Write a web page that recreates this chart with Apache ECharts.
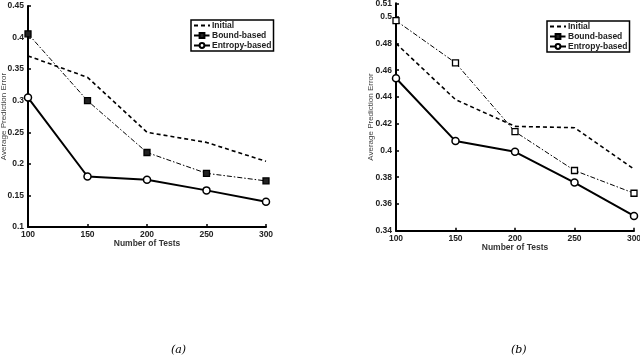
<!DOCTYPE html>
<html><head><meta charset="utf-8">
<script src="https://cdn.jsdelivr.net/npm/echarts@6/dist/echarts.min.js"></script>
<style>html,body{margin:0;padding:0;background:#fff}#c{width:640px;height:356px}</style>
</head><body><div id="c"></div>
<script>
const xTests = [100, 150, 200, 250, 300];
const seriesNames = ['Initial', 'Bound-based', 'Entropy-based'];
// chart (a)
const aInitial = [0.371, 0.337, 0.250, 0.234, 0.204];
const aBound   = [0.406, 0.300, 0.218, 0.185, 0.173];
const aEntropy = [0.305, 0.180, 0.175, 0.158, 0.140];
// chart (b)
const bInitial = [0.480, 0.438, 0.418, 0.417, 0.386];
const bBound   = [0.497, 0.4655, 0.414, 0.385, 0.368];
const bEntropy = [0.454, 0.407, 0.399, 0.376, 0.351];
const captions = ['(a)', '(b)'];
const yTitle = 'Average Prediction Error';
const xTitle = 'Number of Tests';

const pair = (ys) => xTests.map((x, i) => [x, ys[i]]);
const FONT = "'Liberation Sans',Arial,sans-serif";
const lab = {fontFamily: FONT, fontSize: 8.5, fontWeight: 'bold', color: '#222'};

function mkSeries(idx, ini, bnd, ent, filledSquares) {
  return [
    {name: seriesNames[0], type: 'line', xAxisIndex: idx, yAxisIndex: idx, data: pair(ini),
     symbol: 'none', lineStyle: {color: '#000', width: 1.6, type: [4, 3]}, itemStyle: {color: '#000'}},
    {name: seriesNames[1], type: 'line', xAxisIndex: idx, yAxisIndex: idx, data: pair(bnd),
     symbol: 'rect', symbolSize: 6, showAllSymbol: true,
     lineStyle: {color: '#000', width: 1, type: [5, 2, 1.5, 2]},
     itemStyle: {color: filledSquares ? '#222' : '#fff', borderColor: '#000', borderWidth: 1.3}},
    {name: seriesNames[2], type: 'line', xAxisIndex: idx, yAxisIndex: idx, data: pair(ent),
     symbol: 'circle', symbolSize: 7, showAllSymbol: true,
     lineStyle: {color: '#000', width: 2},
     itemStyle: {color: '#fff', borderColor: '#000', borderWidth: 1.5}}
  ];
}

function xAx(idx) {
  return {type: 'value', gridIndex: idx, min: 100, max: 300, interval: 50,
    axisLine: {lineStyle: {color: '#000', width: 2}},
    axisTick: {inside: true, length: 3, lineStyle: {color: '#000', width: 1.5}},
    axisLabel: Object.assign({margin: 3}, lab),
    splitLine: {show: false},
    name: xTitle, nameLocation: 'middle', nameGap: 12, nameMoveOverlap: false,
    nameTextStyle: {fontFamily: FONT, fontSize: 8.5, fontWeight: 'bold', color: '#333', verticalAlign: 'top'}};
}
function yAx(idx, min, max, interval, gap) {
  return {type: 'value', gridIndex: idx, min: min, max: max, interval: interval,
    axisLine: {show: true, lineStyle: {color: '#000', width: 2}},
    axisTick: {show: true, inside: true, length: 3, lineStyle: {color: '#000', width: 1.5}},
    axisLabel: Object.assign({margin: 4}, lab),
    splitLine: {show: false},
    name: yTitle, nameLocation: 'middle', nameGap: gap, nameRotate: 90, nameMoveOverlap: false,
    nameTextStyle: {fontFamily: FONT, fontSize: 8, color: '#444'}};
}
function legend(left, top) {
  return {orient: 'vertical', left: left, top: top, padding: [1, 2, 1, 2], itemGap: 1,
    itemWidth: 16, itemHeight: 6, borderColor: '#000', borderWidth: 1.5, backgroundColor: '#fff',
    data: [{name: seriesNames[0], itemStyle: {opacity: 0}}, {name: seriesNames[1]}, {name: seriesNames[2]}],
    textStyle: {fontFamily: FONT, fontSize: 8.5, fontWeight: 'bold', color: '#222', padding: [0, 0, 0, -3]}};
}

const chart = echarts.init(document.getElementById('c'), null, {renderer: 'canvas'});
chart.setOption({
  animation: false,
  backgroundColor: '#fff',
  title: [
    {text: captions[0], left: 166, top: 340, textStyle: {fontFamily: "'DejaVu Serif','Liberation Serif',serif", fontStyle: 'italic', fontWeight: 'normal', fontSize: 11, color: '#000'}},
    {text: captions[1], left: 506, top: 340, textStyle: {fontFamily: "'DejaVu Serif','Liberation Serif',serif", fontStyle: 'italic', fontWeight: 'normal', fontSize: 11, color: '#000'}}
  ],
  legend: [legend(191, 20), legend(547, 21)],
  grid: [
    {left: 28, right: 374, top: 6, bottom: 129, containLabel: false, outerBoundsMode: 'none'},
    {left: 396, right: 6, top: 3.3, bottom: 125.3, containLabel: false, outerBoundsMode: 'none'}
  ],
  xAxis: [xAx(0), xAx(1)],
  yAxis: [yAx(0, 0.1, 0.45, 0.05, 20), yAx(1, 0.34, 0.51, 0.02, 21)],
  series: mkSeries(0, aInitial, aBound, aEntropy, true).concat(mkSeries(1, bInitial, bBound, bEntropy, false))
});
</script></body></html>
